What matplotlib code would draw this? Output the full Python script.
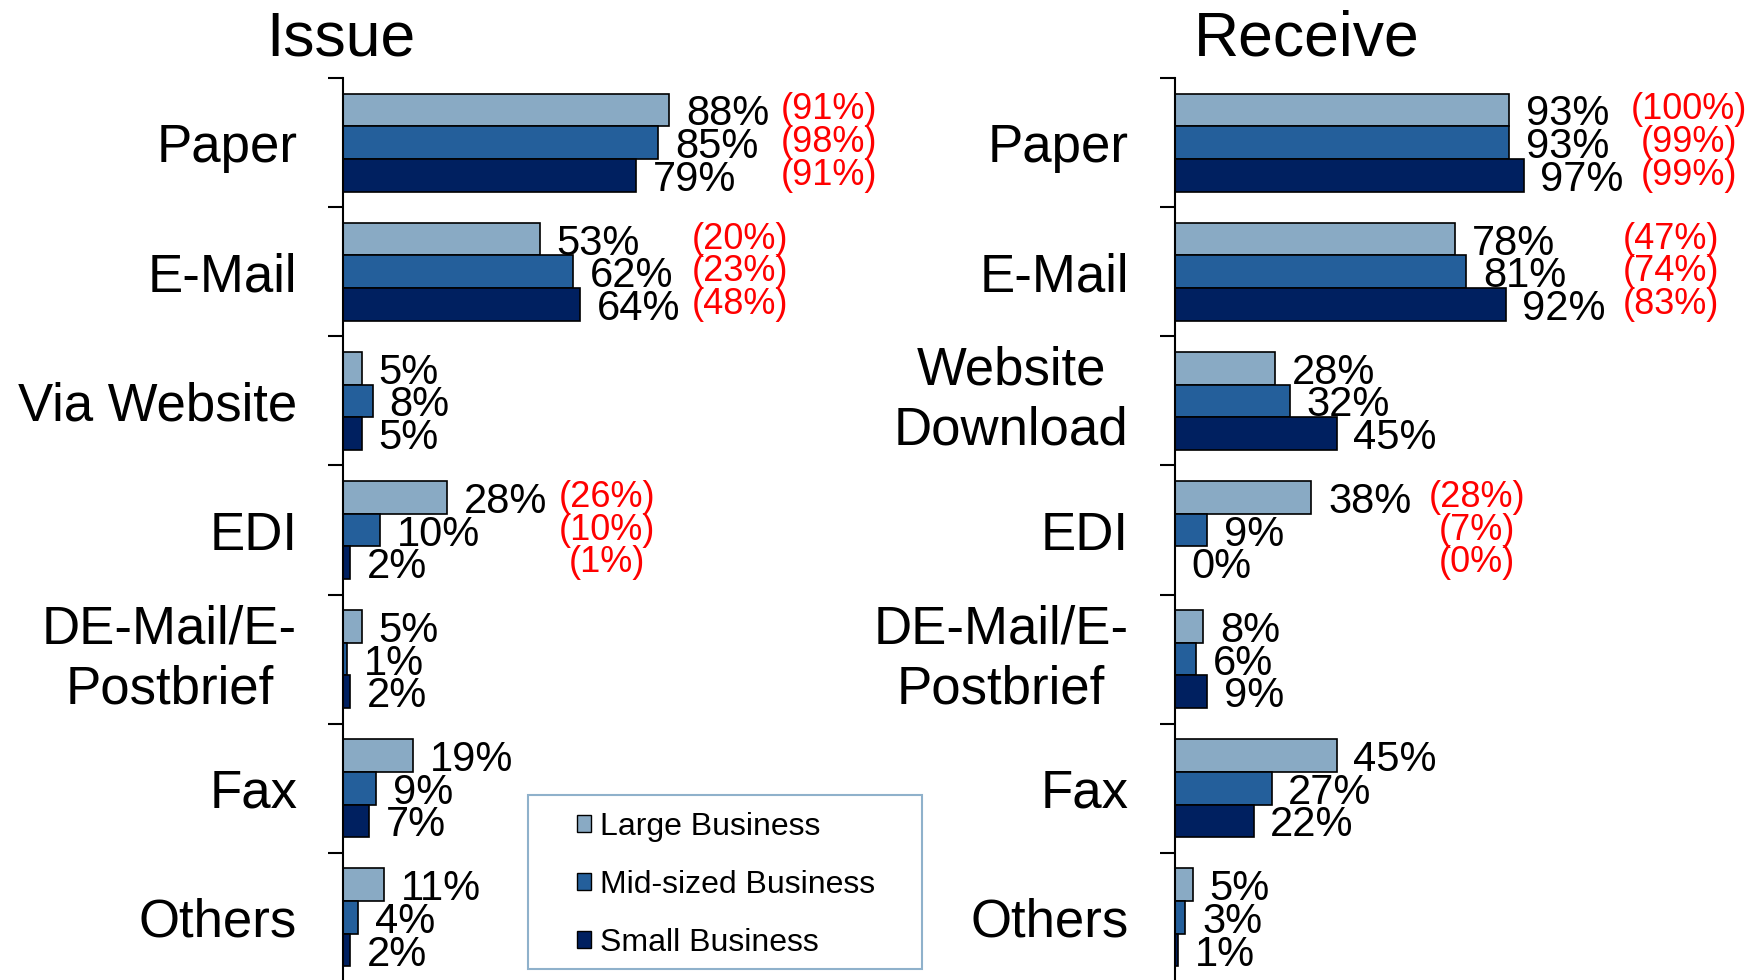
import numpy as np
import matplotlib
matplotlib.use("Agg")
import matplotlib.pyplot as plt
from matplotlib.patches import Patch, Rectangle

plt.rcParams['font.family'] = ['Liberation Sans', 'DejaVu Sans']

# data
series = ["Large Business", "Mid-sized Business", "Small Business"]
colors = ["#89aac4", "#245f9b", "#002060"]

issue_cats = ["Paper", "E-Mail", "Via Website", "EDI", "DE-Mail/E-\nPostbrief", "Fax", "Others"]
issue_large = [88, 53, 5, 28, 5, 19, 11]
issue_mid = [85, 62, 8, 10, 1, 9, 4]
issue_small = [79, 64, 5, 2, 2, 7, 2]
issue_red = {0: [91, 98, 91], 1: [20, 23, 48], 3: [26, 10, 1]}

recv_cats = ["Paper", "E-Mail", "Website\nDownload", "EDI", "DE-Mail/E-\nPostbrief", "Fax", "Others"]
recv_large = [93, 78, 28, 38, 8, 45, 5]
recv_mid = [93, 81, 32, 9, 6, 27, 3]
recv_small = [97, 92, 45, 0, 9, 22, 1]
recv_red = {0: [100, 99, 99], 1: [47, 74, 83], 3: [28, 7, 0]}

W, H = 1754, 980
fig = plt.figure(figsize=(W / 100, H / 100), dpi=100)


def panel(rect, cats, vals, red, title, title_x, red_off):
	ax = fig.add_axes(rect)
	y = np.arange(len(cats))
	h = 0.253
	for i, (v, c) in enumerate(zip(vals, colors)):
		yy = y + (i - 1) * h
		ax.barh(yy, v, height=h, color=c, edgecolor="black", linewidth=1.2)
		for yi, vi in zip(yy, v):
			ax.annotate(f"{vi}%", xy=(vi, yi), xytext=(12, 0), textcoords="offset points",
				ha="left", va="center_baseline", fontsize=30)
	for k, rv in red.items():
		mx = max(v[k] for v in vals)
		for i, r in enumerate(rv):
			ax.annotate(f"({r}%)", xy=(mx, k + (i - 1) * h), xytext=(red_off, 0),
				textcoords="offset points", ha="center", va="center",
				fontsize=26, color="red")
	ax.set_xlim(0, 100)
	ax.set_ylim(len(cats) - 0.5, -0.5)
	for s in ["top", "right", "bottom"]:
		ax.spines[s].set_visible(False)
	ax.spines["left"].set_linewidth(1.5)
	ax.set_xticks([])
	ax.set_yticks(y)
	ax.set_yticklabels(cats, fontsize=38, multialignment="center")
	for lab in ax.get_yticklabels():
		if "\n" in lab.get_text():
			lab.set_va("center")
			lab.set_linespacing(1.25)
		else:
			lab.set_va("center_baseline")
	ax.set_yticks(np.arange(-0.5, len(cats), 1), minor=True)
	ax.tick_params(axis="y", which="major", length=0, pad=33)
	ax.tick_params(axis="y", which="minor", length=11, width=1.5, direction="out")
	fig.text(title_x, 1 - 39 / H, title, ha="center", va="center", fontsize=45)
	return ax


top = 1 - 78 / H
bottom = -2 / H
panel([343 / W, bottom, 371 / W, top - bottom], issue_cats,
	[issue_large, issue_mid, issue_small], issue_red, "Issue", 341 / W, 115)
panel([1174.5 / W, bottom, 360 / W, top - bottom], recv_cats,
	[recv_large, recv_mid, recv_small], recv_red, "Receive", 1307 / W, 119)

# legend box
fig.patches.append(Rectangle((528 / W, 1 - 969 / H), (922 - 528) / W, (969 - 795) / H,
	transform=fig.transFigure, fill=False, edgecolor="#8fb1cb", linewidth=1.5))
handles = [Patch(facecolor=c, edgecolor="black", linewidth=1.0) for c in colors]
fig.legend(handles, series, loc="upper left", bbox_to_anchor=(577 / W, 1 - 812 / H),
	frameon=False, fontsize=23, borderpad=0, borderaxespad=0, handlelength=0.43,
	handleheight=0.43, handletextpad=0.3, labelspacing=0.88)

fig.savefig("out.png", dpi=100)
